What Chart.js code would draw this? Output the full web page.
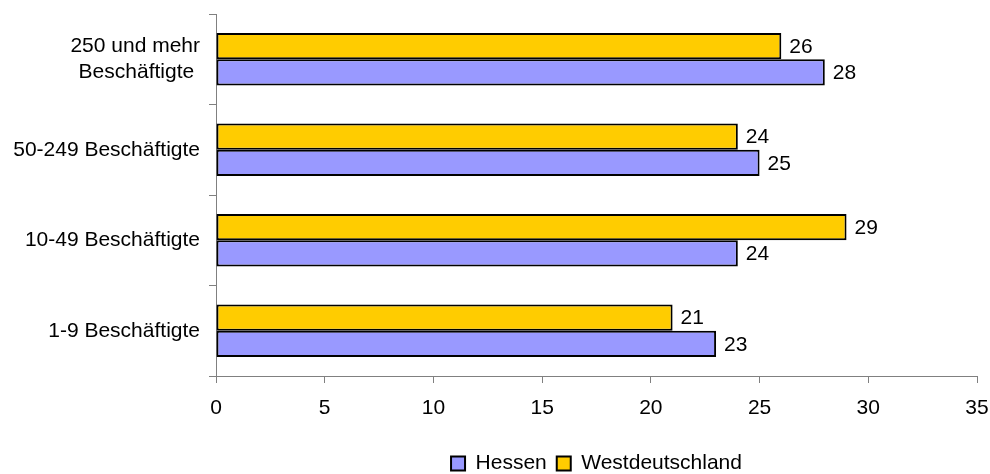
<!DOCTYPE html>
<html>
<head>
<meta charset="utf-8">
<script src="https://cdn.jsdelivr.net/npm/chart.js@4.4.0/dist/chart.umd.min.js"></script>
<style>
  html, body { margin: 0; padding: 0; background: #fff; }
  #wrap { width: 990px; height: 474px; }
</style>
</head>
<body>
<div id="wrap"><canvas id="myChart" width="990" height="474"></canvas></div>
<script>
'use strict';

let categories = [['250 und mehr', 'Beschäftigte '], '50-249 Beschäftigte', '10-49 Beschäftigte', '1-9 Beschäftigte'];
let westValues = [26, 24, 29, 21];
let hessenValues = [28, 25, 24, 23];
let xTicks = [0, 5, 10, 15, 20, 25, 30, 35];

Chart.defaults.font.family = '"Liberation Sans", Arial, sans-serif';
Chart.defaults.font.size = 21;
Chart.defaults.color = '#000';

// value labels at the end of each bar
const barLabels = {
  id: 'barLabels',
  afterDatasetsDraw(chart) {
    const ctx = chart.ctx;
    ctx.save();
    ctx.font = '21px "Liberation Sans", Arial, sans-serif';
    ctx.fillStyle = '#000';
    ctx.textAlign = 'left';
    ctx.textBaseline = 'middle';
    chart.data.datasets.forEach((ds, i) => {
      let meta = chart.getDatasetMeta(i);
      meta.data.forEach((bar, j) => {
        ctx.fillText(ds.data[j], bar.x + 8, bar.y + 1);
      });
    });
    ctx.restore();
  }
};

const data = {
  labels: categories,
  datasets: [
    {
      label: 'Westdeutschland',
      data: westValues,
      backgroundColor: '#FFCC00',
      borderColor: '#000',
      borderWidth: 2,
      borderSkipped: false,
      barPercentage: 1.0,
      categoryPercentage: 0.58
    },
    {
      label: 'Hessen',
      data: hessenValues,
      backgroundColor: '#9999FF',
      borderColor: '#000',
      borderWidth: 2,
      borderSkipped: false,
      barPercentage: 1.0,
      categoryPercentage: 0.58
    }
  ]
};

const config = {
  type: 'bar',
  data: data,
  options: {
    indexAxis: 'y',
    responsive: false,
    animation: false,
    devicePixelRatio: 1,
    layout: {
      padding: { left: 0, right: 13, top: 14, bottom: -10 }
    },
    scales: {
      x: {
        min: 0,
        max: 35,
        afterBuildTicks: (scale) => {
          scale.ticks = xTicks.map(v => ({ value: v }));
        },
        afterFit: (scale) => {
          scale.height = 67;
          scale.paddingLeft = 0;
          scale.paddingRight = 0;
        },
        grid: {
          drawOnChartArea: false,
          drawTicks: true,
          tickLength: 7,
          tickColor: '#808080'
        },
        border: { color: '#808080', width: 1 },
        ticks: { padding: 13, color: '#000' }
      },
      y: {
        afterFit: (scale) => {
          scale.width = 216;
          scale.paddingTop = 0;
          scale.paddingBottom = 0;
        },
        grid: {
          offset: true,
          drawOnChartArea: false,
          drawTicks: true,
          tickLength: 7,
          tickColor: '#808080'
        },
        border: { color: '#808080', width: 1 },
        ticks: { padding: 9, color: '#000', autoSkip: false }
      }
    },
    plugins: {
      legend: {
        position: 'bottom',
        fullSize: false,
        reverse: true,
        labels: {
          boxWidth: 14,
          boxHeight: 14,
          padding: 10,
          color: '#000',
          font: { size: 21 }
        }
      },
      tooltip: { enabled: false }
    }
  },
  plugins: [barLabels]
};

const myChart = new Chart(document.getElementById('myChart'), config);
</script>
</body>
</html>
